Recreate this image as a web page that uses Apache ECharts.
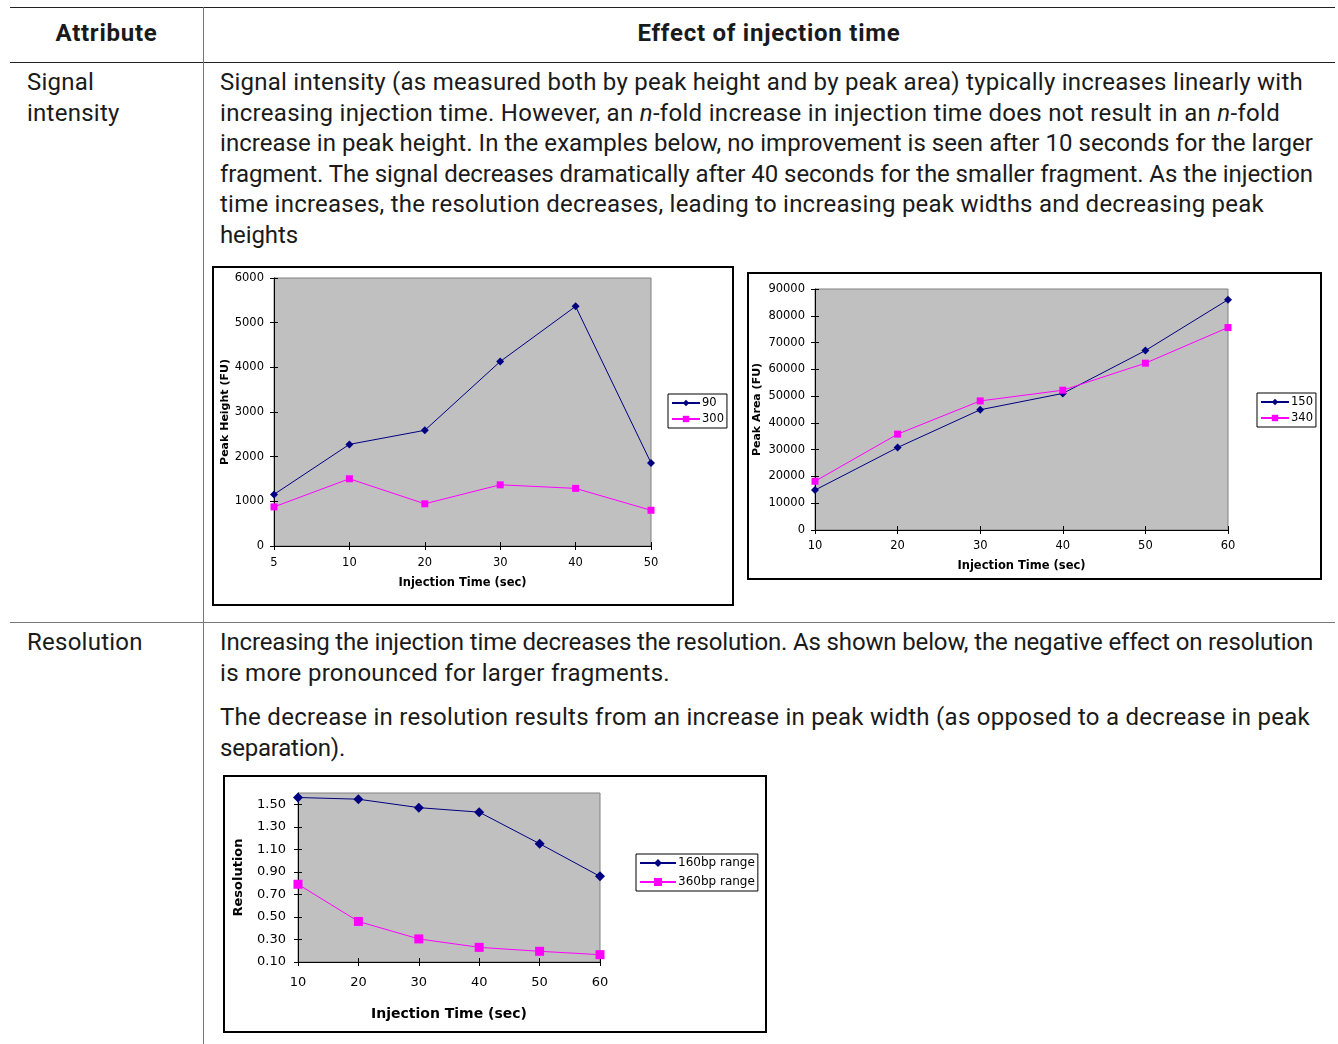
<!DOCTYPE html>
<html>
<head>
<meta charset="utf-8">
<script src="https://cdn.jsdelivr.net/npm/echarts@6/dist/echarts.min.js"></script>
<style>
  html, body { margin: 0; padding: 0; background: #fff; }
  body { width: 1338px; height: 1044px; position: relative; overflow: hidden;
         font-family: "Roboto", "Noto Sans", sans-serif; color: #1a1a1a; }
  .hline { position: absolute; height: 1px; }
  .vline { position: absolute; width: 1px; }
  .txt { position: absolute; font-size: 24px; letter-spacing: 0.25px; line-height: 30.6px; white-space: nowrap; }
  .hdr { position: absolute; font-size: 24px; letter-spacing: 0.75px; font-weight: bold; line-height: 30px; white-space: nowrap; text-align: center; }
  .ln { letter-spacing: 0; }
  .chart { position: absolute; box-sizing: border-box; border: 2px solid #000; background: #fff; }
</style>
</head>
<body>
<div class="hline" style="left:10px;top:7px;width:1325px;background:#222"></div>
<div class="hline" style="left:10px;top:62px;width:1325px;background:#222"></div>
<div class="hline" style="left:10px;top:622px;width:1325px;background:#777"></div>
<div class="vline" style="left:203px;top:7px;height:1037px;background:#777"></div>

<div class="hdr" style="left:10px;width:193px;top:18px">Attribute</div>
<div class="hdr" style="left:203px;width:1132px;top:18px">Effect of injection time</div>

<div class="txt" style="left:27px;top:67px">Signal<br>intensity</div>
<div class="txt" style="left:220px;top:67px"><span class="ln" data-end="1303">Signal intensity (as measured both by peak height and by peak area) typically increases linearly with</span><br><span class="ln" data-end="1280">increasing injection time. However, an <i>n</i>-fold increase in injection time does not result in an <i>n</i>-fold</span><br><span class="ln" data-end="1313">increase in peak height. In the examples below, no improvement is seen after 10 seconds for the larger</span><br><span class="ln" data-end="1313">fragment. The signal decreases dramatically after 40 seconds for the smaller fragment. As the injection</span><br><span class="ln" data-end="1264">time increases, the resolution decreases, leading to increasing peak widths and decreasing peak</span><br><span class="ln" data-end="298">heights</span></div>

<div class="txt" style="left:27px;top:627px">Resolution</div>
<div class="txt" style="left:220px;top:627px"><span class="ln" data-end="1313">Increasing the injection time decreases the resolution. As shown below, the negative effect on resolution</span><br><span class="ln" data-end="670">is more pronounced for larger fragments.</span></div>
<div class="txt" style="left:220px;top:702px"><span class="ln" data-end="1310">The decrease in resolution results from an increase in peak width (as opposed to a decrease in peak</span><br><span class="ln" data-end="345">separation).</span></div>

<div id="c1" class="chart" style="left:212px;top:266px;width:522px;height:340px"></div>
<div id="c2" class="chart" style="left:747px;top:272px;width:575px;height:308px"></div>
<div id="c3" class="chart" style="left:223px;top:775px;width:544px;height:258px"></div>

<script>
// ---- data ----
const timeCats1 = ['5', '10', '20', '30', '40', '50'];
const peakHeight90 = [1155, 2275, 2590, 4130, 5365, 1860];
const peakHeight300 = [875, 1505, 945, 1370, 1290, 800];

const timeCats2 = ['10', '20', '30', '40', '50', '60'];
const peakArea150 = [14900, 30800, 44900, 51000, 67000, 86000];
const peakArea340 = [18200, 35800, 48200, 52200, 62300, 75600];

const timeCats3 = ['10', '20', '30', '40', '50', '60'];
const res160 = [1.56, 1.545, 1.47, 1.43, 1.15, 0.86];
const res360 = [0.79, 0.46, 0.305, 0.23, 0.195, 0.165];
const resTicks = [0.10, 0.30, 0.50, 0.70, 0.90, 1.10, 1.30, 1.50];

// fit each text line to its measured width in the original
document.querySelectorAll('.ln').forEach(el => {
  const r = el.getBoundingClientRect();
  const target = Number(el.dataset.end) - r.left;
  const n = el.textContent.length;
  if (n > 1) el.style.letterSpacing = ((target - r.width) / n).toFixed(3) + 'px';
});

const NAVY = '#000080', MAGENTA = '#FF00FF';
const FONT = '"DejaVu Sans", Verdana, sans-serif';

function lineSeries(name, data, color, symbol, size) {
  return {
    name, type: 'line', data, symbol, symbolSize: size, showSymbol: true,
    xAxisIndex: 0, yAxisIndex: 0,
    itemStyle: { color }, lineStyle: { color, width: 1 },
    emphasis: { disabled: true }, animation: false, z: 3
  };
}

function buildOption(o) {
  const nameStyle = { fontFamily: FONT, fontWeight: 'bold', fontSize: o.nameFont, color: '#000' };
  const yNameStyle = Object.assign({}, nameStyle, { fontSize: o.yNameFont });
  const tickStyle = { color: '#000', width: 1 };
  const yScale = o.yScale;
  const yMain = Object.assign({
    type: 'value', name: o.yName, nameLocation: 'middle', nameRotate: 90, nameGap: o.yNameGap,
    nameMoveOverlap: false,
    nameTextStyle: yNameStyle,
    axisLine: { show: true, lineStyle: { color: '#000', width: 1 } },
    axisTick: { show: true, length: 4, lineStyle: tickStyle, customValues: o.yTicks },
    axisLabel: { color: '#000', fontFamily: FONT, fontSize: o.labelFont, margin: o.yLabelMargin,
                 customValues: o.yTicks, formatter: o.yFormatter },
    splitLine: { show: false }
  }, yScale);
  const yInner = Object.assign({
    type: 'value', position: 'left',
    axisLine: { show: false }, axisLabel: { show: false }, splitLine: { show: false },
    axisTick: { show: true, inside: true, length: 4, lineStyle: tickStyle, customValues: o.yTicks }
  }, yScale);
  return {
    animation: false,
    textStyle: { fontFamily: FONT, color: '#000' },
    grid: Object.assign({
      show: true, backgroundColor: '#c0c0c0', borderColor: '#808080', borderWidth: 1,
      containLabel: false, outerBoundsMode: 'none'
    }, o.grid),
    legend: Object.assign({
      orient: 'vertical', backgroundColor: '#fff', borderColor: '#000', borderWidth: 1,
      borderRadius: 0, padding: [3, 3, 3, 3],
      textStyle: { fontFamily: FONT, color: '#000', fontSize: o.legendFont, padding: [0, 0, 0, -3] },
      inactiveColor: '#000', selectedMode: false
    }, o.legend),
    xAxis: [{
      type: 'category', data: o.cats, boundaryGap: false,
      name: 'Injection Time (sec)', nameLocation: 'middle', nameGap: o.xNameGap,
      nameMoveOverlap: false,
      nameTextStyle: nameStyle,
      axisLine: { show: true, lineStyle: { color: '#000', width: 1 } },
      axisTick: { show: true, interval: 0, length: 4, lineStyle: tickStyle },
      axisLabel: { interval: 0, color: '#000', fontFamily: FONT, fontSize: o.labelFont, margin: o.xLabelMargin },
      splitLine: { show: false }
    }, {
      type: 'category', data: o.cats, boundaryGap: false, position: 'bottom',
      axisLine: { show: false }, axisLabel: { show: false }, splitLine: { show: false },
      axisTick: { show: true, inside: true, interval: 0, length: 4, lineStyle: tickStyle }
    }],
    yAxis: [yMain, yInner],
    series: o.series
  };
}

const plainInt = v => String(Math.round(v));

// Chart 1: Peak Height
const ch1 = echarts.init(document.getElementById('c1'), null, { renderer: 'canvas' });
ch1.setOption(buildOption({
  grid: { left: 60, top: 10, right: 81, bottom: 58 },
  legend: { left: 454, top: 126, itemWidth: 28, itemHeight: 8, itemGap: 4 },
  legendFont: 11.5, labelFont: 11.5, nameFont: 11.5, yNameFont: 11, cats: timeCats1,
  xNameGap: 31, xLabelMargin: 11, yLabelMargin: 10,
  yName: 'Peak Height (FU)', yNameGap: 43,
  yScale: { min: 0, max: 6000, interval: 1000 }, yFormatter: plainInt,
  series: [
    lineSeries('90', peakHeight90, NAVY, 'diamond', 8),
    lineSeries('300', peakHeight300, MAGENTA, 'rect', 7)
  ]
}));

// Chart 2: Peak Area
const ch2 = echarts.init(document.getElementById('c2'), null, { renderer: 'canvas' });
ch2.setOption(buildOption({
  grid: { left: 66, top: 15, right: 92, bottom: 48 },
  legend: { left: 508, top: 119, itemWidth: 28, itemHeight: 8, itemGap: 4 },
  legendFont: 11.5, labelFont: 11.5, nameFont: 11.5, yNameFont: 11, cats: timeCats2,
  xNameGap: 30, xLabelMargin: 10, yLabelMargin: 10,
  yName: 'Peak Area (FU)', yNameGap: 52,
  yScale: { min: 0, max: 90000, interval: 10000 }, yFormatter: plainInt,
  series: [
    lineSeries('150', peakArea150, NAVY, 'diamond', 8),
    lineSeries('340', peakArea340, MAGENTA, 'rect', 7)
  ]
}));

// Chart 3: Resolution
const ch3 = echarts.init(document.getElementById('c3'), null, { renderer: 'canvas' });
ch3.setOption(buildOption({
  grid: { left: 73, top: 16, right: 165, bottom: 69 },
  legend: { left: 411, top: 77, itemWidth: 36, itemHeight: 10, itemGap: 7 },
  legendFont: 12, labelFont: 13, nameFont: 14, yNameFont: 13, cats: timeCats3,
  xNameGap: 45, xLabelMargin: 14, yLabelMargin: 12,
  yName: 'Resolution', yNameGap: 53,
  yScale: { min: 0.1, max: 1.6 }, yTicks: resTicks, yFormatter: v => Number(v).toFixed(2),
  series: [
    lineSeries('160bp range', res160, NAVY, 'diamond', 10),
    lineSeries('360bp range', res360, MAGENTA, 'rect', 9)
  ]
}));
</script>
</body>
</html>
